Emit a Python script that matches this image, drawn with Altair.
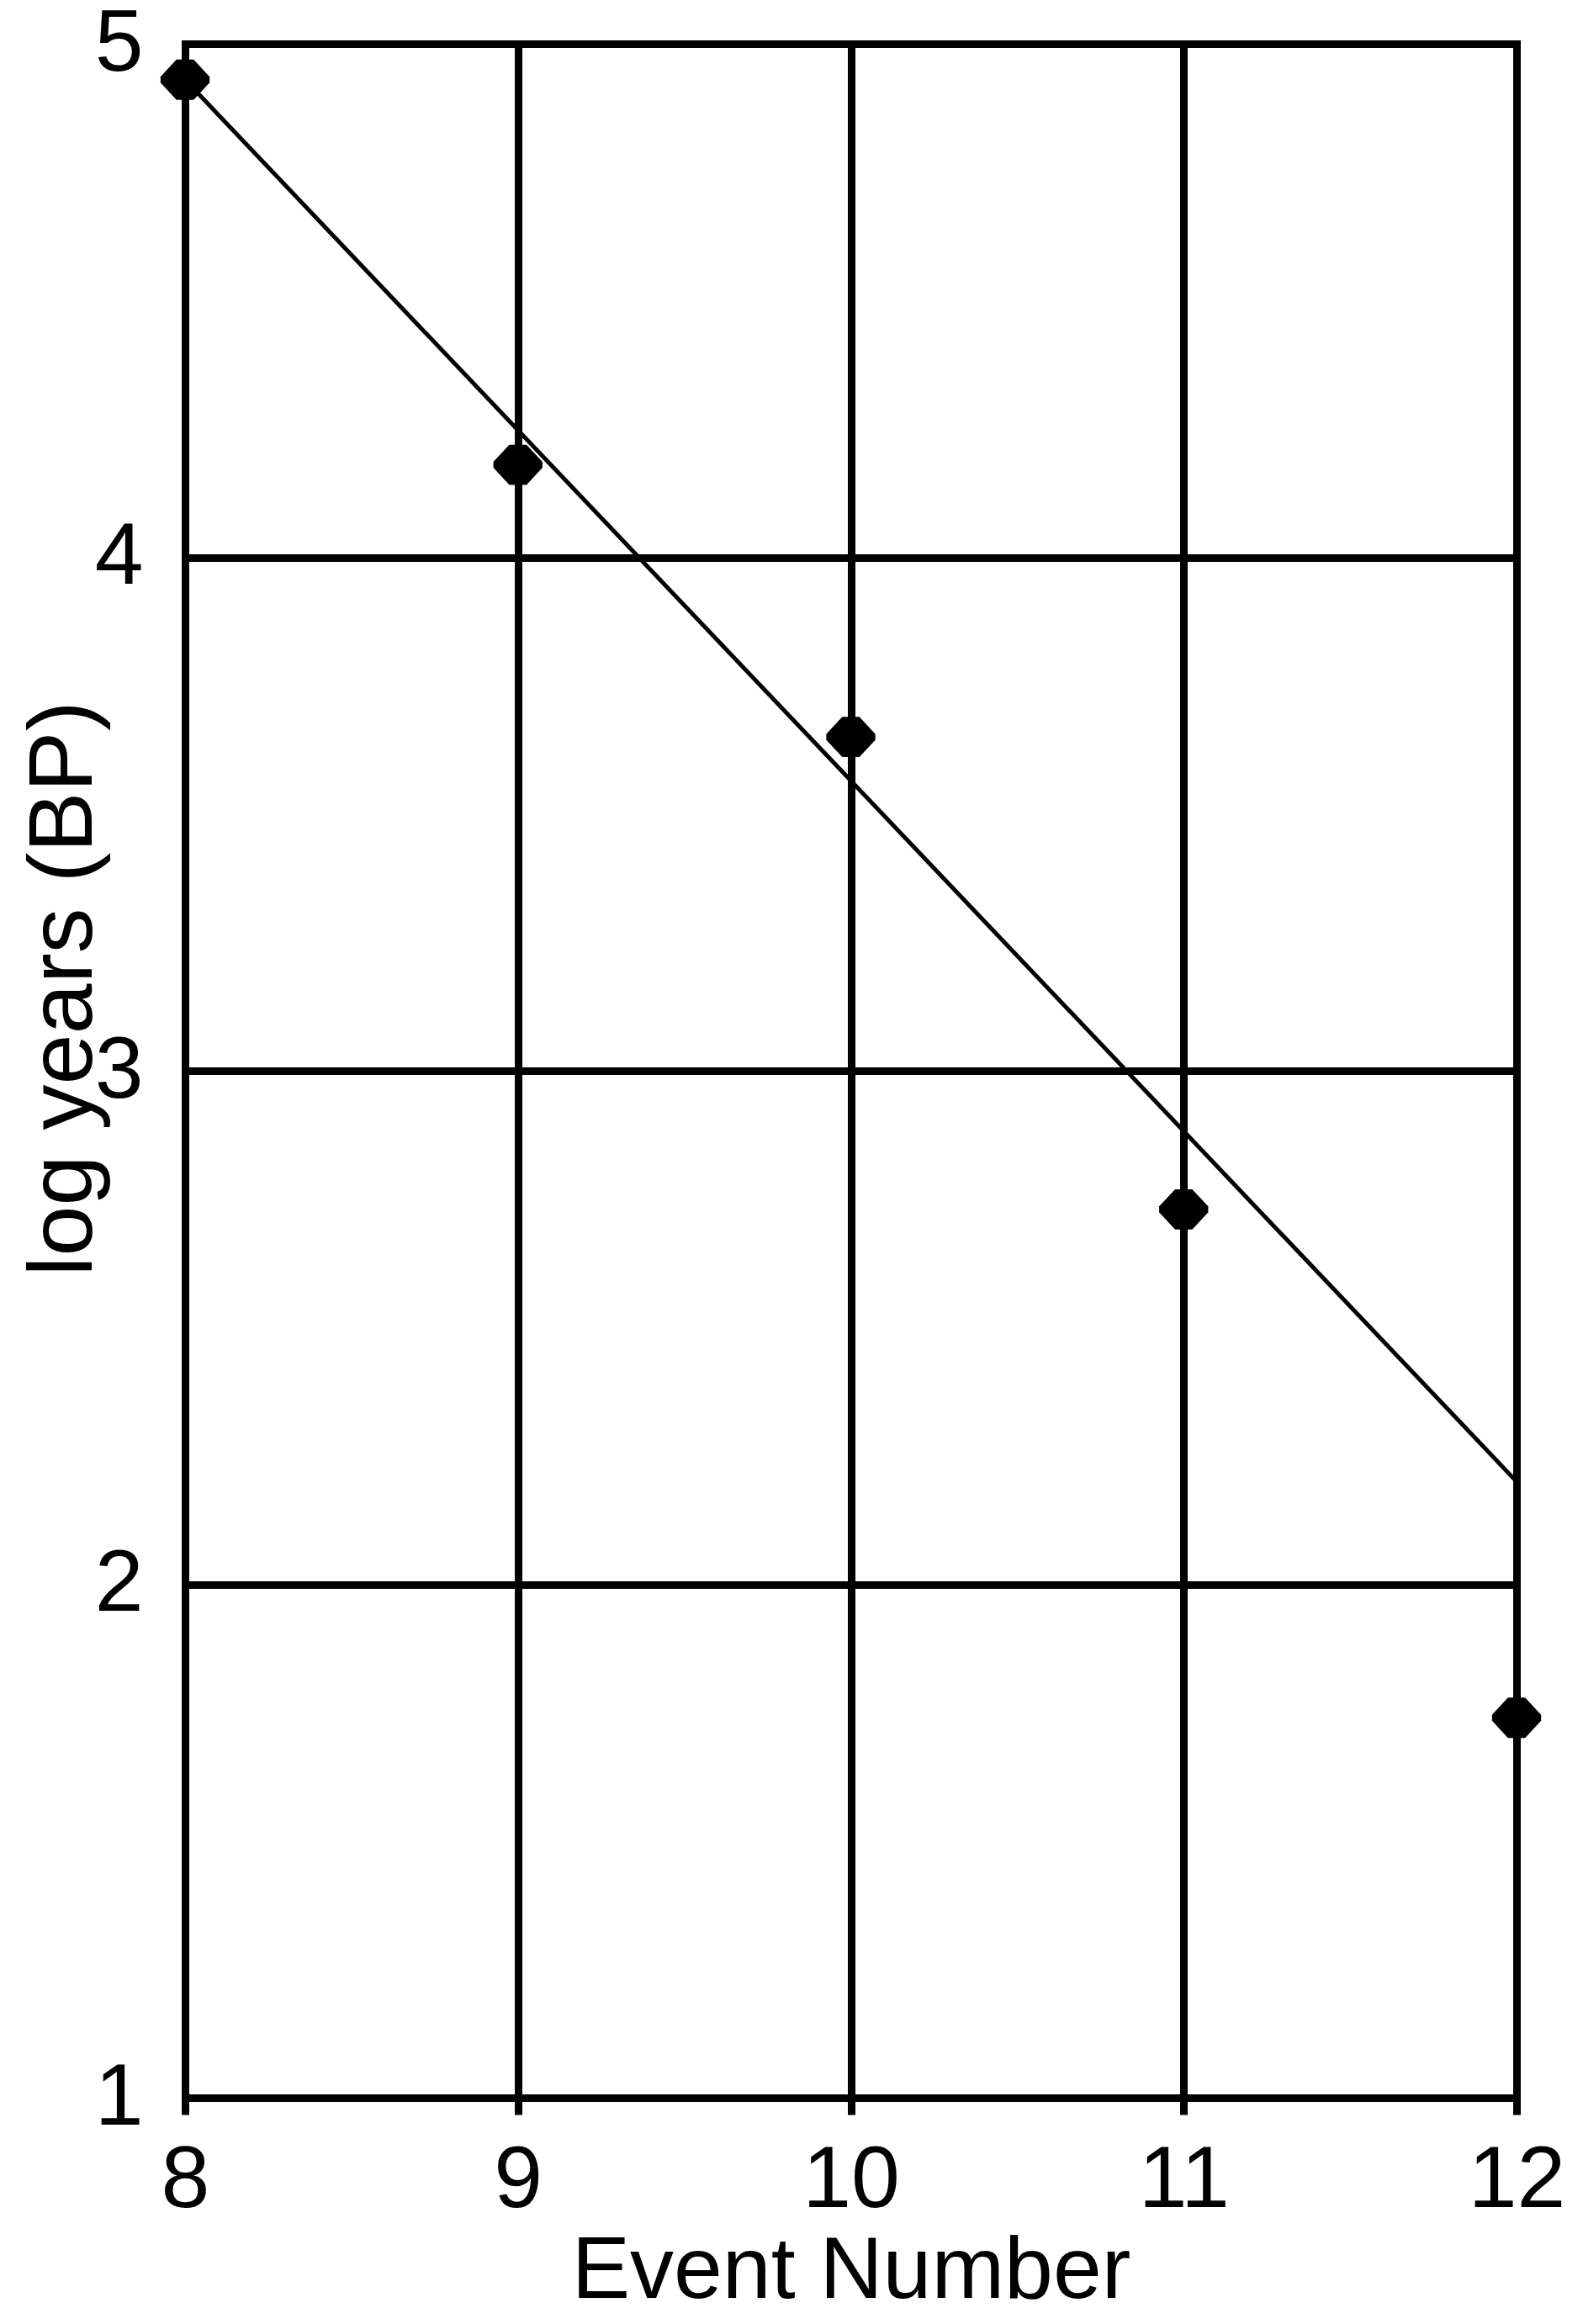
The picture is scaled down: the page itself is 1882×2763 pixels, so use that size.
import altair as alt
import pandas as pd

# Data
events = [8, 9, 10, 11, 12]
log_years = [4.93, 4.18, 3.65, 2.73, 1.74]

trend_x = [8, 12]
trend_y = [4.93, 2.20]

x_ticks = [8, 9, 10, 11, 12]
y_ticks = [1, 2, 3, 4, 5]

pts = pd.DataFrame({"event": events, "logyears": log_years})
trend = pd.DataFrame({"event": trend_x, "logyears": trend_y})

FONT = "Liberation Sans"

x_enc = alt.X(
    "event:Q",
    scale=alt.Scale(domain=[8, 12], nice=False, zero=False),
    axis=alt.Axis(
        values=x_ticks,
        format="d",
        title="Event Number",
        grid=True,
        gridColor="black",
        gridWidth=9,
        gridOpacity=1,
        gridCap="square",
        domain=False,
        ticks=True,
        tickColor="black",
        tickWidth=9,
        tickSize=20,
        labelFont=FONT,
        labelFontSize=104,
        labelColor="black",
        labelPadding=109,
        labelBaseline="alphabetic",
        labelFlush=False,
        labelOverlap=False,
        labelLimit=0,
        titleFont=FONT,
        titleFontSize=104,
        titleFontWeight="normal",
        titleColor="black",
        titleBaseline="alphabetic",
        titleY=237,
    ),
)

y_enc = alt.Y(
    "logyears:Q",
    scale=alt.Scale(domain=[1, 5], nice=False, zero=False),
    axis=alt.Axis(
        values=y_ticks,
        format="d",
        title="log years (BP)",
        grid=True,
        gridColor="black",
        gridWidth=9,
        gridOpacity=1,
        gridCap="square",
        domain=False,
        ticks=False,
        tickSize=0,
        labelFont=FONT,
        labelFontSize=104,
        labelColor="black",
        labelPadding=50,
        labelFlush=False,
        labelOverlap=False,
        labelLimit=0,
        titleFont=FONT,
        titleFontSize=108,
        titleFontWeight="normal",
        titleColor="black",
        titleAngle=270,
        titleBaseline="alphabetic",
        titleAlign="center",
        titleX=-112,
        titleY=1123,
        titleLimit=0,
    ),
)

diamond = "M-1,-0.12L-0.35,-0.82L0.35,-0.82L1,-0.12L1,0.12L0.35,0.82L-0.35,0.82L-1,0.12Z"

line = alt.Chart(trend).mark_line(color="black", strokeWidth=5).encode(x=x_enc, y=y_enc)
points = alt.Chart(pts).mark_point(
    shape=diamond, filled=True, color="black", opacity=1, size=3400
).encode(x="event:Q", y="logyears:Q")

chart = (
    alt.layer(line, points)
    .properties(
        width=1583,
        height=2442,
        autosize=alt.AutoSizeParams(type="none"),
        padding={"left": 212, "top": 44, "right": 60, "bottom": 250},
    )
    .configure_view(stroke=None)
    .configure(background="white")
)

chart.save("out.html", embed_options={"renderer": "svg", "actions": False})
